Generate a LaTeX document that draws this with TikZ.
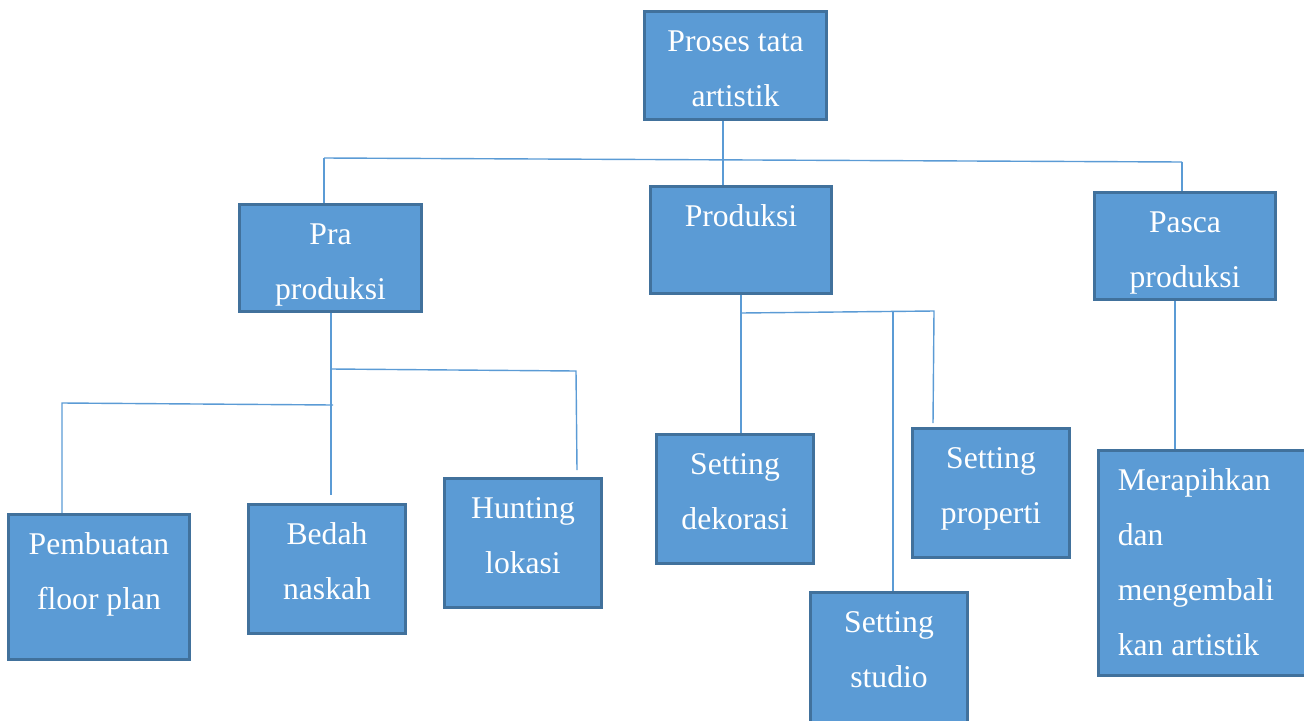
\documentclass[tikz,border=0pt]{standalone}
\usepackage{fontspec}
\setmainfont{Liberation Serif}
\usetikzlibrary{backgrounds}
\definecolor{boxfill}{HTML}{5B9BD5}
\definecolor{boxline}{HTML}{41719C}
\definecolor{connclr}{HTML}{5B9BD5}
\newlength\pxu
\setlength\pxu{0.02cm}
\newcommand\boxtext[3]{\parbox[c][#2\pxu][t]{#1\pxu}{\centering\fontsize{18}{31.2}\selectfont\color{white}\vspace*{1.2pt}\strut #3\par}}
\newcommand\boxtextl[3]{\parbox[c][#2\pxu][t]{#1\pxu}{\raggedright\leftskip=11pt\fontsize{18}{31.2}\selectfont\color{white}\vspace*{1.2pt}\strut #3\par}}
\tikzset{
  chartbox/.style={draw=boxline, fill=boxfill, line width=1.6pt, inner sep=0pt, rectangle},
  conn/.style={draw=connclr, line width=0.8pt}
}
\begin{document}
\begin{tikzpicture}[x=0.02cm, y=-0.02cm]
\useasboundingbox (0,0) rectangle (1304,720);
% boxes
\node[chartbox] (top)    at (735.5,65.5) {\boxtext{182}{108}{Proses tata\\artistik}};
\node[chartbox] (pra)    at (330.5,258)  {\boxtext{182}{107}{Pra\\produksi}};
\node[chartbox] (prod)   at (741,240)    {\boxtext{181}{107}{Produksi}};
\node[chartbox] (pasca)  at (1185,246)   {\boxtext{181}{107}{Pasca\\produksi}};
\node[chartbox] (pemb)   at (99,587)     {\boxtext{181}{145}{Pembuatan\\floor plan}};
\node[chartbox] (bedah)  at (327,569)    {\boxtext{157}{129}{Bedah\\naskah}};
\node[chartbox] (hunt)   at (523,543)    {\boxtext{157}{129}{Hunting\\lokasi}};
\node[chartbox] (dekor)  at (735,499)    {\boxtext{157}{129}{Setting\\dekorasi}};
\node[chartbox] (prop)   at (991,493)    {\boxtext{157}{129}{Setting\\properti}};
\node[chartbox] (studio) at (889,662)    {\boxtext{157}{139}{Setting\\studio}};
\node[chartbox] (merap)  at (1218.5,563) {\boxtextl{240}{225}{Merapihkan\\dan\\mengembali\\kan artistik}};
% connector points
\coordinate (c723) at (723,160);
\coordinate (jL) at (324,158);
\coordinate (jR) at (1182,162);
\coordinate (pEnd) at (331,495);
\coordinate (pj1) at (331,369);
\coordinate (pj1R) at (576,371);
\coordinate (huntEnd) at (577,470);
\coordinate (pj2) at (333,405);
\coordinate (pj2L) at (62,403);
\coordinate (dj) at (741,313);
\coordinate (djR) at (934,311);
\coordinate (sj) at (893,312);
\coordinate (propEnd) at (933,423);
\coordinate (qj) at (1175,380);
\begin{scope}[on background layer]
\draw[conn] (top.south -| c723) -- (prod.north -| c723);
\draw[conn] (jL) -- (jR);
\draw[conn] (jL) -- (pra.north -| jL);
\draw[conn] (jR) -- (pasca.north -| jR);
\draw[conn] (pra.south -| pEnd) -- (pEnd);
\draw[conn] (pj1) -- (pj1R) -- (huntEnd);
\draw[conn] (pj2) -- (pj2L) -- (pemb.north -| pj2L);
\draw[conn] (prod.south -| dj) -- (dekor.north -| dj);
\draw[conn] (dj) -- (djR) -- (propEnd);
\draw[conn] (sj) -- (studio.north -| sj);
\draw[conn] (pasca.south -| qj) -- (merap.north -| qj);
\end{scope}
\end{tikzpicture}
\end{document}
